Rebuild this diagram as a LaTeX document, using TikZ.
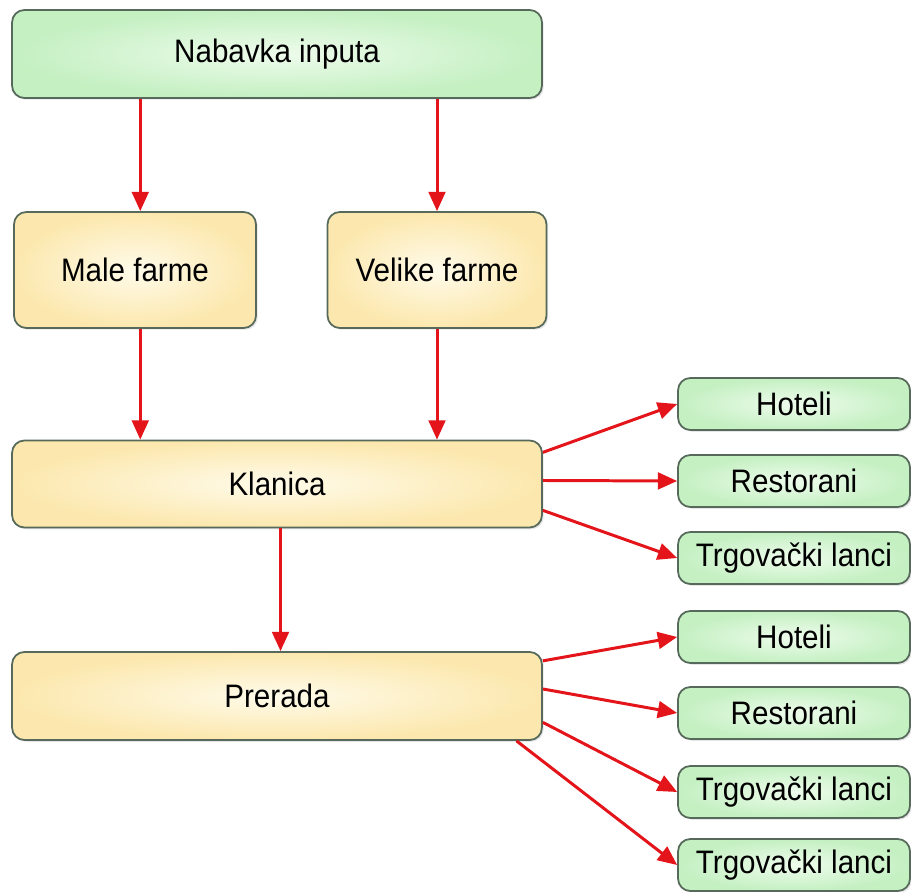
\documentclass[tikz,border=0pt]{standalone}
\usepackage{fontspec}
\setmainfont{Liberation Sans}[FakeStretch=0.91]
\usetikzlibrary{arrows.meta,shadows}

\definecolor{greenout}{HTML}{C4F0C2}
\definecolor{greenin}{HTML}{EEFCEC}
\definecolor{yellowout}{HTML}{FCE8AE}
\definecolor{yellowin}{HTML}{FFFBEA}
\definecolor{boxline}{HTML}{56695A}
\definecolor{linkred}{HTML}{E3141A}

\begin{document}
\begin{tikzpicture}[x=0.02cm, y=-0.02cm,
    stage/.style={draw=boxline, line width=1pt, rounded corners=7pt,
      drop shadow={opacity=0.2, shadow xshift=1pt, shadow yshift=-1pt},
      font=\fontsize{18.5}{21}\selectfont},
    greenbox/.style={stage, inner color=greenin, outer color=greenout},
    yellowbox/.style={stage, inner color=yellowin, outer color=yellowout},
    outlet/.style={greenbox, minimum width=4.64cm, minimum height=1.04cm},
    link/.style={-{Triangle[length=11pt,width=9.5pt]}, linkred, line width=1.7pt}]
    \useasboundingbox (0,0) rectangle (911,891);

    % Supply and farms
    \node[greenbox, minimum width=10.6cm, minimum height=1.76cm] (nabavka) at (277,54) {Nabavka inputa};
    \node[yellowbox, minimum width=4.84cm, minimum height=2.32cm] (male) at (135,270) {Male farme};
    \node[yellowbox, minimum width=4.38cm, minimum height=2.32cm] (velike) at (437,270) {Velike farme};

    % Slaughter and processing
    \node[yellowbox, minimum width=10.6cm, minimum height=1.74cm] (klanica) at (277,484) {Klanica};
    \node[yellowbox, minimum width=10.6cm, minimum height=1.76cm] (prerada) at (277,696) {Prerada};

    % Outlets of the slaughterhouse
    \node[outlet] (hot1) at (794,404) {Hoteli};
    \node[outlet] (res1) at (794,481) {Restorani};
    \node[outlet] (trg1) at (794,558) {Trgovački lanci};

    % Outlets of processing
    \node[outlet] (hot2) at (794,637) {Hoteli};
    \node[outlet] (res2) at (794,713) {Restorani};
    \node[outlet] (trg2) at (794,792) {Trgovački lanci};
    \node[outlet] (trg3) at (794,865) {Trgovački lanci};

    % Vertical flow
    \draw[link] ([xshift=3pt]nabavka.south -| male.north) -- ([xshift=3pt]male.north);
    \draw[link] (nabavka.south -| velike.north) -- (velike.north);
    \draw[link] ([xshift=3pt]male.south) -- ([xshift=3pt]male.south |- klanica.north);
    \draw[link] (velike.south) -- (velike.south |- klanica.north);
    \draw[link] ([xshift=2pt]klanica.south) -- ([xshift=2pt]prerada.north);

    % Fan out to the right
    \draw[link] ([yshift=18pt]klanica.east) -- (hot1.west);
    \draw[link] ([yshift=2pt]klanica.east) -- (res1.west);
    \draw[link] ([yshift=-15pt]klanica.east) -- (trg1.west);
    \draw[link] ([yshift=20pt]prerada.east) -- (hot2.west);
    \draw[link] ([yshift=4pt]prerada.east) -- (res2.west);
    \draw[link] ([yshift=-15pt]prerada.east) -- (trg2.west);
    \draw[link] ([xshift=-15pt]prerada.south east) -- (trg3.west);
\end{tikzpicture}
\end{document}
